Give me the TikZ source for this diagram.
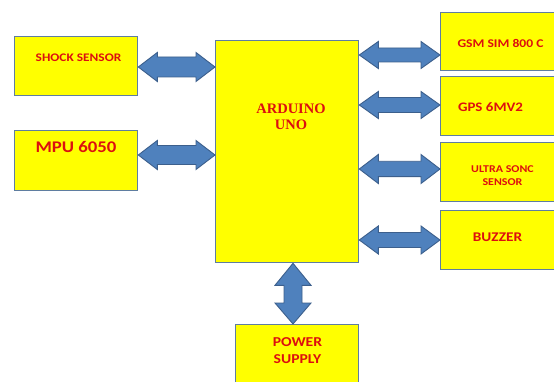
\documentclass[tikz,border=0pt]{standalone}
\usepackage{fontspec}
\setmainfont{Carlito}
\newfontfamily\timesf{Liberation Serif}
\usetikzlibrary{calc}
\definecolor{boxyellow}{RGB}{255,255,0}
\definecolor{boxedge}{RGB}{95,125,160}
\definecolor{arrowfill}{RGB}{79,129,189}
\definecolor{arrowedge}{RGB}{60,95,140}
\definecolor{txtred}{RGB}{220,15,15}
\newcommand\wide[1]{\scalebox{1.15}[1]{#1}}
\tikzset{
  blk/.style={draw=boxedge, fill=boxyellow, line width=1.3pt, inner sep=0pt, anchor=north west},
  lbl/.style={text=txtred, font=\bfseries, inner sep=0pt, align=center},
  arrowstyle/.style={fill=arrowfill, draw=arrowedge, line width=0.9pt, line join=miter}
}
% horizontal double block arrow: #1 left point, #2 right point, #3 head half width, #4 shaft half width
\newcommand\hdarrow[4]{%
 \filldraw[arrowstyle] let \p1=(#1), \p2=(#2) in
   (\x1,\y1) -- (\x1+19pt,\y1+#3) -- (\x1+19pt,\y1+#4) -- (\x2-19pt,\y1+#4) --
   (\x2-19pt,\y1+#3) -- (\x2,\y1) -- (\x2-19pt,\y1-#3) -- (\x2-19pt,\y1-#4) --
   (\x1+19pt,\y1-#4) -- (\x1+19pt,\y1-#3) -- cycle;}
% vertical double block arrow: #1 top point, #2 bottom point
\newcommand\vdarrow[4]{%
 \filldraw[arrowstyle] let \p1=(#1), \p2=(#2) in
   (\x1,\y1) -- (\x1+#3,\y1-22pt) -- (\x1+#4,\y1-22pt) -- (\x1+#4,\y2+21pt) --
   (\x1+#3,\y2+21pt) -- (\x1,\y2) -- (\x1-#3,\y2+21pt) -- (\x1-#4,\y2+21pt) --
   (\x1-#4,\y1-22pt) -- (\x1-#3,\y1-22pt) -- cycle;}
\begin{document}
\begin{tikzpicture}[x=1pt,y=-1pt]
\useasboundingbox (0,0) rectangle (554,382);
\clip (0,0) rectangle (554,382);
\fill[white] (0,0) rectangle (554,382);
% boxes
\node[blk, minimum width=123pt, minimum height=59pt] (shock) at (14,36) {};
\node[blk, minimum width=123pt, minimum height=60pt] (mpu) at (14,130) {};
\node[blk, minimum width=143pt, minimum height=222pt] (ard) at (215,40) {};
\node[blk, minimum width=125pt, minimum height=58pt] (gsm) at (440,12) {};
\node[blk, minimum width=125pt, minimum height=59pt] (gps) at (440,76) {};
\node[blk, minimum width=125pt, minimum height=59pt] (ultra) at (440,142) {};
\node[blk, minimum width=125pt, minimum height=59pt] (buzz) at (440,210) {};
\node[blk, minimum width=123pt, minimum height=70pt] (power) at (235,324) {};
% labels
\node[lbl, font=\bfseries\fontsize{11.6}{13}\selectfont] (shockt) at (78.5,58) {\wide{SHOCK SENSOR}};
\node[lbl, font=\bfseries\fontsize{16.3}{18}\selectfont] (mput) at (76,147) {\wide{MPU 6050}};
\node[lbl, font=\timesf\bfseries\fontsize{14.5}{16}\selectfont] (ardt) at (291,117) {ARDUINO\\UNO};
\node[lbl, font=\bfseries\fontsize{11.8}{13}\selectfont] (gsmt) at (500.5,43) {\wide{GSM SIM 800 C}};
\node[lbl, font=\bfseries\fontsize{13}{15}\selectfont] (gpst) at (490.5,107) {\wide{GPS 6MV2}};
\node[lbl, font=\bfseries\fontsize{10.4}{12.7}\selectfont] (ultrat) at (502.5,175.5) {\wide{ULTRA SONC}\\\wide{SENSOR}};
\node[lbl, font=\bfseries\fontsize{13.3}{15}\selectfont] (buzzt) at (497.5,237) {\wide{BUZZER}};
\node[lbl, font=\bfseries\fontsize{13.6}{17.3}\selectfont] (powert) at (297.5,350.5) {\wide{POWER}\\\wide{SUPPLY}};
% arrows
\hdarrow{shock.east |- 0,67}{ard.west |- 0,67}{14.5pt}{10pt}
\hdarrow{mpu.east |- 0,155}{ard.west |- 0,155}{14.5pt}{9.5pt}
\hdarrow{ard.east |- 0,55}{gsm.west |- 0,55}{13.5pt}{7pt}
\hdarrow{ard.east |- 0,105}{gps.west |- 0,105}{13.5pt}{7.5pt}
\hdarrow{ard.east |- 0,169}{ultra.west |- 0,169}{14.5pt}{7.7pt}
\hdarrow{ard.east |- 0,240}{buzz.west |- 0,240}{14pt}{7.5pt}
\vdarrow{ard.south -| 293,0}{power.north -| 293,0}{18pt}{9pt}
\end{tikzpicture}
\end{document}
